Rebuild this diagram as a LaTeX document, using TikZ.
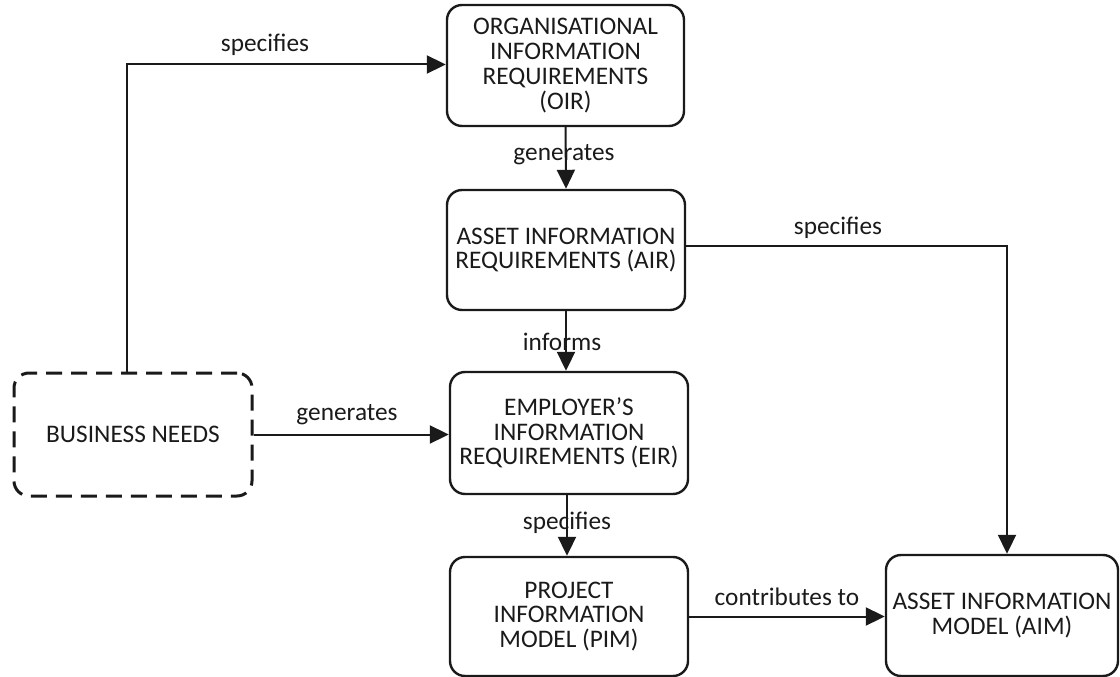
\documentclass[tikz,border=0pt]{standalone}
\usepackage{fontspec}
\setmainfont{Carlito}
\usetikzlibrary{arrows.meta}
\definecolor{ink}{HTML}{1A1A1A}
\tikzset{
  box/.style={draw=ink, line width=2.4pt, rounded corners=15pt, inner sep=0pt,
    align=center, text=ink, minimum width=238pt, minimum height=121pt,
    font=\fontsize{25.3}{24.8}\selectfont},
  dbox/.style={box, dash pattern=on 16pt off 9pt, line width=3pt},
  arr/.style={draw=ink, line width=2pt, -{Triangle[length=19pt,width=18pt]}},
  lbl/.style={text=ink, inner sep=0pt, font=\fontsize{25.3}{24.8}\selectfont}
}
\begin{document}
\begin{tikzpicture}[x=1pt,y=-1pt]
\useasboundingbox (0,0) rectangle (1120,677);
\node[box, minimum width=237pt] (oir) at (565.5,65.5) {ORGANISATIONAL\\INFORMATION\\REQUIREMENTS\\(OIR)};
\node[box, minimum height=120pt] (air) at (566,250) {ASSET INFORMATION\\REQUIREMENTS (AIR)};
\node[box, minimum height=122pt] (eir) at (569,433) {EMPLOYER’S\\INFORMATION\\REQUIREMENTS (EIR)};
\node[box, minimum height=119pt] (pim) at (569,616.5) {PROJECT\\INFORMATION\\MODEL (PIM)};
\node[box, minimum width=232pt] (aim) at (1002,615.5) {ASSET INFORMATION\\MODEL (AIM)};
\node[dbox, minimum height=123pt] (bn) at (133,434.5) {BUSINESS NEEDS};

\coordinate (c1) at (127,64.5);
\coordinate (c2) at (1007,246);
\draw[arr] (bn.north -| c1) -- (c1) -- (c1 -| oir.west);
\draw[arr] (oir.south) -- (air.north);
\draw[arr] (air.south) -- (air.south |- eir.north);
\draw[arr] (eir.south -| 567,0) -- (pim.north -| 567,0);
\draw[arr] (bn.east) -- (bn.east -| eir.west);
\draw[arr] (pim.east) -- (pim.east -| aim.west);
\draw[arr] (air.east |- c2) -- (c2) -- (c2 |- aim.north);

\node[lbl] (l1) at (265,45) {specifies};
\node[lbl] (l2) at (564,155) {generates};
\node[lbl] (l3) at (562,342) {informs};
\node[lbl] (l4) at (567,523) {specifies};
\node[lbl] (l5) at (347,415) {generates};
\node[lbl] (l6) at (838,228) {specifies};
\node[lbl] (l7) at (787,597) {contributes to};
\end{tikzpicture}
\end{document}
